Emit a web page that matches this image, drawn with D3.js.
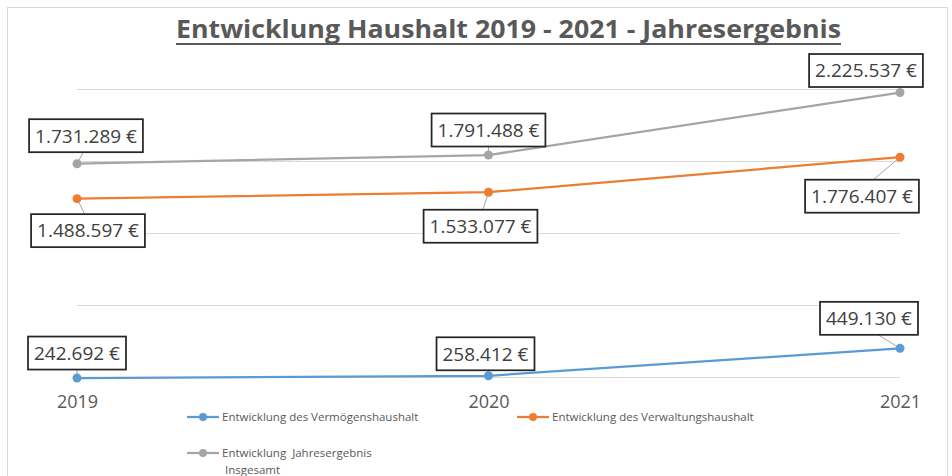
<!DOCTYPE html>
<html>
<head>
<meta charset="utf-8">
<script src="https://cdn.jsdelivr.net/npm/d3@7"></script>
<style>
  body { margin: 0; background: #fff; }
  svg { display: block; font-family: "Open Sans", sans-serif; }
</style>
</head>
<body>
<div id="chart"></div>
<script>
// data
var years = ["2019", "2020", "2021"];
var vermoegen = [242692, 258412, 449130];
var verwaltung = [1488597, 1533077, 1776407];
var jahresergebnis = [1731289, 1791488, 2225537];
var seriesNames = ["Entwicklung des Vermögenshaushalt", "Entwicklung des Verwaltungshaushalt", "Entwicklung  Jahresergebnis Insgesamt"];
var gridValues = [250000, 750000, 1250000, 1750000, 2250000];
var titleText = "Entwicklung Haushalt 2019 - 2021 - Jahresergebnis";

var width = 952, height = 476;

var svg = d3.select("#chart").append("svg")
    .attr("width", width)
    .attr("height", height);

// chart frame
svg.append("rect")
  .attr("x", 7.5).attr("y", 7.5)
  .attr("width", 940).attr("height", 480)
  .style("fill", "#fff")
  .style("stroke", "#d9d9d9")
  .style("stroke-width", 1);

var xScale = d3.scalePoint()
  .domain(years)
  .range([77, 900]);

var yScale = d3.scaleLinear()
  .domain([250000, 2250000])
  .range([377, 89]);

// gridlines
svg.selectAll(".grid")
  .data(gridValues)
 .enter()
  .append("line")
  .attr("class", "grid")
  .attr("x1", xScale.range()[0])
  .attr("x2", xScale.range()[1])
  .attr("y1", function(d) { return Math.round(yScale(d)) + 0.5; })
  .attr("y2", function(d) { return Math.round(yScale(d)) + 0.5; })
  .style("stroke", "#d9d9d9")
  .style("stroke-width", 1);

// x axis labels
var xAxis = d3.axisBottom(xScale).tickSize(0).tickPadding(0);
var gx = svg.append("g")
  .attr("class", "x axis")
  .attr("transform", "translate(0,395)")
  .call(xAxis);
gx.select(".domain").remove();
gx.selectAll("text")
  .attr("dy", "0.71em")
  .style("font-family", "Open Sans")
  .style("font-size", "18px")
  .style("fill", "#595959");

// title
svg.append("text")
  .attr("x", 176)
  .attr("y", 38)
  .attr("textLength", 665)
  .attr("lengthAdjust", "spacingAndGlyphs")
  .style("font-family", "Open Sans")
  .style("font-weight", "bold")
  .style("font-size", "25px")
  .style("fill", "#595959")
  .text(titleText);
svg.append("line")
  .attr("x1", 176).attr("x2", 841)
  .attr("y1", 44).attr("y2", 44)
  .style("stroke", "#595959")
  .style("stroke-width", 2);

var series = [
  { name: seriesNames[0], values: vermoegen, color: "#5b9bd5",
    offsets: [[0, -25], [-3, -22], [-31, -30]] },
  { name: seriesNames[1], values: verwaltung, color: "#ed7d31",
    offsets: [[11, 32], [-8, 34], [-38, 39]] },
  { name: seriesNames[2], values: jahresergebnis, color: "#a5a5a5",
    offsets: [[9, -28], [0, -25], [-34, -22]] }
];

var line = d3.line()
  .x(function(d, i) { return xScale(years[i]); })
  .y(function(d) { return yScale(d); });

var fmt = function(v) { return d3.format(",")(v).replace(/,/g, ".") + " €"; };

// series lines and markers
series.forEach(function(s) {
  svg.append("path")
    .attr("d", line(s.values))
    .style("fill", "none")
    .style("stroke", s.color)
    .style("stroke-width", 2.25)
    .style("stroke-linejoin", "round");

  svg.selectAll(null)
    .data(s.values)
   .enter()
    .append("circle")
    .attr("cx", function(d, i) { return xScale(years[i]); })
    .attr("cy", function(d) { return yScale(d); })
    .attr("r", 4.5)
    .style("fill", s.color);
});

// data labels with leader lines
series.forEach(function(s) {
  s.values.forEach(function(v, i) {
    var px = xScale(years[i]), py = yScale(v);
    var cx = px + s.offsets[i][0], cy = py + s.offsets[i][1];
    var g = svg.append("g");
    var t = g.append("text")
      .attr("x", cx).attr("y", cy)
      .attr("text-anchor", "middle")
      .attr("dy", "0.36em")
      .style("font-family", "Open Sans")
      .style("font-size", "19px")
      .style("fill", "#404040")
      .text(fmt(v));
    var w = t.node().getComputedTextLength() + 12, h = 33;
    var bx = cx - w / 2, by = cy - h / 2;
    var nx = Math.max(bx, Math.min(px, bx + w)), ny = Math.max(by, Math.min(py, by + h));
    if (Math.hypot(nx - px, ny - py) > 6) {
      var ex = cx + 0.3 * (px - cx);
      var ey = py < by ? by : by + h;
      svg.insert("line", "path")
        .attr("x1", px).attr("y1", py)
        .attr("x2", ex).attr("y2", ey)
        .style("stroke", "#a6a6a6")
        .style("stroke-width", 1);
    }
    g.insert("rect", "text")
      .attr("x", bx).attr("y", by)
      .attr("width", w).attr("height", h)
      .style("fill", "#fff")
      .style("stroke", "#262626")
      .style("stroke-width", 1.75);
  });
});

// legend
var legendItems = [
  { x: 187, y: 417, lines: [seriesNames[0]], color: series[0].color },
  { x: 517, y: 417, lines: [seriesNames[1]], color: series[1].color },
  { x: 187, y: 453, lines: ["Entwicklung  Jahresergebnis", "Insgesamt"], color: series[2].color }
];
var lg = svg.selectAll(".legend")
  .data(legendItems)
 .enter()
  .append("g")
  .attr("class", "legend")
  .attr("transform", function(d) { return "translate(" + d.x + "," + d.y + ")"; });
lg.append("line")
  .attr("x1", 0).attr("x2", 32)
  .style("stroke", function(d) { return d.color; })
  .style("stroke-width", 2.25);
lg.append("circle")
  .attr("cx", 16).attr("r", 4)
  .style("fill", function(d) { return d.color; });
lg.append("text")
  .attr("x", 35)
  .style("font-family", "Open Sans")
  .style("font-size", "11.5px")
  .style("fill", "#595959")
  .style("white-space", "pre")
  .selectAll("tspan")
  .data(function(d) { return d.lines; })
 .enter()
  .append("tspan")
  .attr("x", function(d, i) { return i === 0 ? 35 : 38; })
  .attr("dy", function(d, i) { return i === 0 ? "0.35em" : "1.45em"; })
  .text(function(d) { return d; });
</script>
</body>
</html>
